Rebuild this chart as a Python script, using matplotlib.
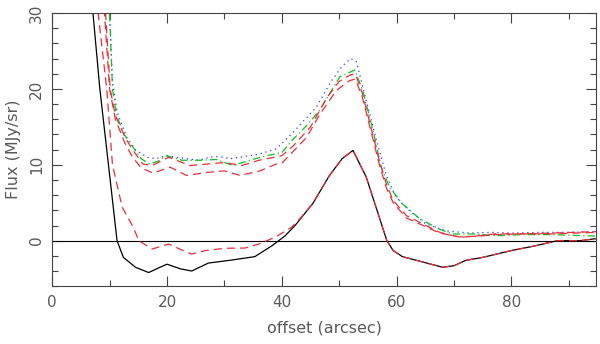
import matplotlib
matplotlib.use("Agg")
import matplotlib.pyplot as plt
import numpy as np
from matplotlib.ticker import MultipleLocator

# black solid profile
black_x = [6, 7.1, 8.3, 9.8, 11.3, 12.4, 14.5, 16.8, 18.5, 20, 22.3, 24.3, 27.2,
           31.3, 35.3, 38.3, 40.6, 42.3, 45.4, 48.3, 50.5, 52.4, 54.7, 56.5, 58.3,
           59.4, 61, 63, 65, 68, 70, 72, 75, 80, 84, 88, 92, 95]
black_y = [45, 30, 20, 10, 0, -2.2, -3.5, -4.2, -3.6, -3.1, -3.7, -4.0, -2.95,
           -2.55, -2.1, -0.66, 0.66, 2.0, 4.9, 8.6, 10.8, 11.9, 8.4, 4.2, 0,
           -1.3, -2.1, -2.5, -2.9, -3.5, -3.3, -2.6, -2.2, -1.3, -0.7, 0, 0, 0.3]

# lower red dashed (joins the black curve past ~45")
redlo_x = [7, 8.0, 9.5, 10.5, 12.2, 14.1, 15.1, 17.4, 20.3, 22.5, 24.3, 26.7,
           30.1, 33.6, 36, 38.8, 41.7, 43.5]
redlo_y = [45, 30, 20, 10, 4.4, 1.8, 0, -1.1, -0.44, -1.2, -1.76, -1.3,
           -1.0, -0.97, -0.44, 0.44, 1.76, 3.2]

# upper group
blue_x = [8.8, 10.0, 10.5, 11.3, 13, 14.5, 16.5, 18, 19.9, 21.5, 23.4, 25.5, 27.5,
          29, 31, 34.4, 36, 39, 42, 46, 48.6, 50.5, 52, 53, 54.7, 56.5, 58.2,
          59.9, 62.2, 65.1, 68.6, 72.7, 76.6, 80, 85, 90, 95]
blue_y = [45, 30, 21, 17, 13.6, 12, 11.0, 10.8, 11.2, 11.0, 10.8, 10.6, 11.0,
          11.1, 10.8, 11.2, 11.4, 12.1, 14.3, 17.6, 21.0, 23.0, 24.0, 23.6, 18.5,
          13.2, 8.6, 5.7, 4.0, 2.2, 1.3, 1.0, 1.1, 1.0, 1.1, 1.1, 1.2]

green_x = [8.8, 10.0, 10.5, 11.2, 12.7, 14.1, 15.5, 17, 18.5, 19.9, 22.6, 25.7, 28.6,
           31.5, 34.4, 37.3, 40, 42, 44.5, 46.6, 50.1, 52.7, 54.1, 55.9, 57.3,
           58.8, 61.1, 64, 67.5, 69.8, 73.6, 77.6, 82, 87, 91, 95]
green_y = [45, 30, 20, 16.5, 13.8, 12.3, 10.8, 10.1, 10.5, 11.2, 10.6, 10.6, 10.7,
           9.9, 10.6, 11.2, 11.6, 13.4, 15.3, 17.2, 21.6, 22.5, 19.8, 14.5, 9.7,
           7.0, 4.8, 2.9, 1.5, 0.88, 0.88, 0.66, 0.8, 0.8, 0.7, 0.6]

redup_x = [8.2, 9.3, 10.1, 11.0, 12.7, 14, 15.8, 17.4, 20.3, 24, 27, 30, 33,
           36, 40, 42, 45, 47.8, 50, 51.8, 52.8, 54, 55.5, 57, 58.2, 59.4, 61.7,
           64.6, 67.5, 71, 74.4, 77.2, 82, 87, 91, 95]
redup_y = [45, 30, 20, 16.5, 13.6, 12, 10.1, 9.9, 11.0, 9.9, 10.1, 10.3, 9.9,
           10.6, 11.2, 12.5, 15.0, 18.8, 21.0, 21.8, 22.0, 19.5, 15, 10.5, 7.5,
           5.3, 3.3, 2.2, 1.1, 0.44, 0.66, 0.9, 0.9, 1.0, 1.1, 1.2]

redmid_x = [8.0, 9.1, 10.0, 11.0, 12.7, 14, 15.5, 17.6, 20.5, 23.4, 27, 30,
            32.7, 36.2, 39, 40, 44.3, 46.5, 49.5, 51.8, 52.8, 54, 55.5, 57, 58.2,
            59.4, 61.7, 64.6, 67.5, 71, 74.4, 77.2, 82, 87, 91, 95]
redmid_y = [45, 30, 20, 16, 12.8, 11.0, 9.6, 8.9, 9.7, 8.6, 9.0, 9.2,
            8.6, 9.2, 10.1, 10.2, 13.6, 16.5, 19.8, 21.1, 21.3, 19, 14.5, 10, 7,
            5, 3.0, 2.0, 1.0, 0.5, 0.6, 0.8, 0.9, 0.9, 1.0, 1.1]

RED = "#e8303a"
GREEN = "#10c020"
BLUE = "#2a3cff"
TXT = "#5a5a5a"

bx = np.array(black_x)
by = np.array(black_y)
tail = bx > redlo_x[-1]
redlo_full_x = np.concatenate([redlo_x, bx[tail]])
redlo_full_y = np.concatenate([redlo_y, by[tail]])

fig = plt.figure(figsize=(6, 3.44), dpi=100)
ax = fig.add_axes([0.087, 0.168, 0.907, 0.794])

ax.axhline(0, color="black", lw=0.8)
ax.plot(bx, by, color="black", lw=0.9)
ax.plot(blue_x, blue_y, color=BLUE, lw=0.9, linestyle=(0, (1, 3)))
ax.plot(green_x, green_y, color=GREEN, lw=0.9, linestyle=(0, (6, 2.5, 1, 2.5)))
ax.plot(redup_x, redup_y, color=RED, lw=0.9, linestyle=(0, (6.5, 4)))
ax.plot(redmid_x, redmid_y, color=RED, lw=0.9, linestyle=(3, (6.5, 4)))
ax.plot(redlo_full_x, redlo_full_y, color=RED, lw=0.9, linestyle=(0, (6.5, 4)))

ax.set_xlim(0, 94.8)
ax.set_ylim(-6, 30)
ax.xaxis.set_major_locator(MultipleLocator(20))
ax.xaxis.set_minor_locator(MultipleLocator(10))
ax.yaxis.set_major_locator(MultipleLocator(10))
ax.yaxis.set_minor_locator(MultipleLocator(2))
ax.tick_params(which="both", direction="in", top=True, right=True,
               color="#444444", width=0.8)
ax.tick_params(which="major", length=7, labelsize=11, labelcolor=TXT, pad=6)
ax.tick_params(which="minor", length=4)
for lab in ax.get_yticklabels():
    lab.set_rotation(90)
    lab.set_va("center")
for sp in ax.spines.values():
    sp.set_color("#444444")
    sp.set_linewidth(0.8)

ax.set_xlabel("offset (arcsec)", fontsize=11.5, color=TXT, labelpad=8)
ax.set_ylabel("Flux (MJy/sr)", fontsize=11.5, color=TXT, labelpad=6)

fig.savefig("out.png", dpi=100)
